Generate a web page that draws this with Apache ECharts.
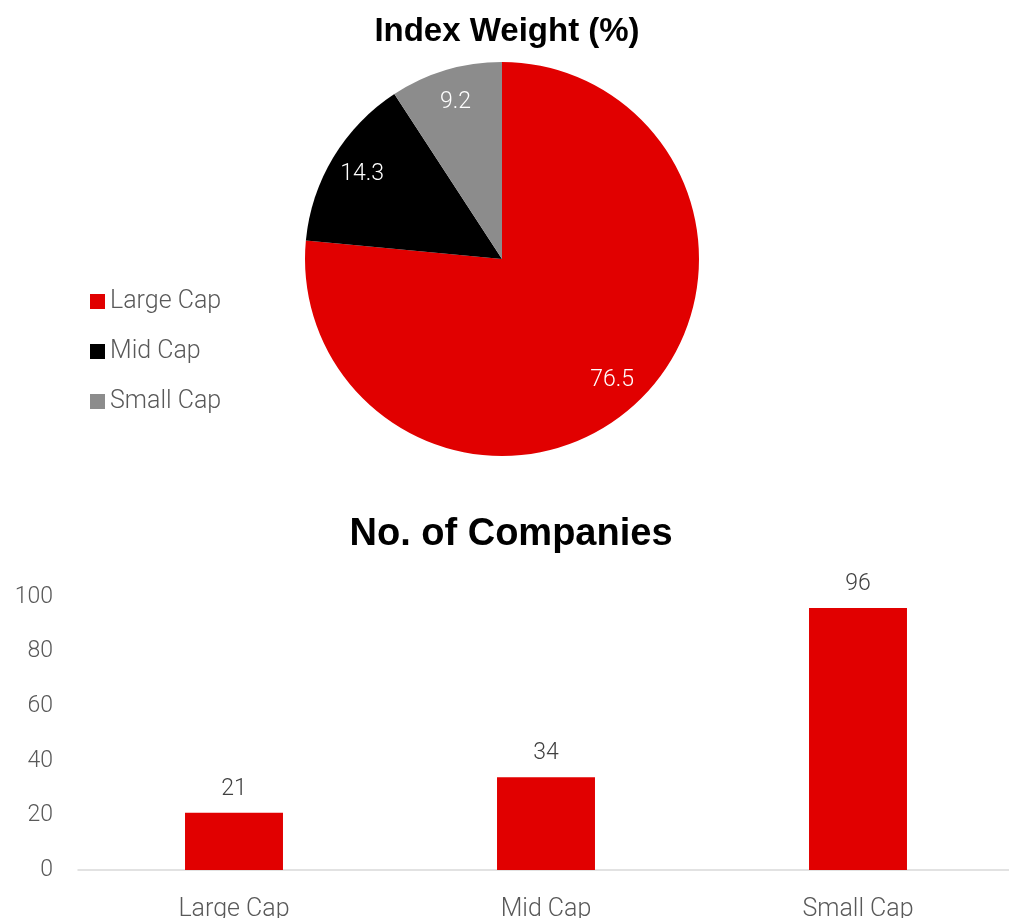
<!DOCTYPE html>
<html>
<head>
<meta charset="utf-8">
<script src="https://cdn.jsdelivr.net/npm/echarts@6/dist/echarts.min.js"></script>
<style>
  html, body { margin: 0; padding: 0; background: #fff; }
  #chart { width: 1009px; height: 918px; }
</style>
</head>
<body>
<div id="chart"></div>
<script>
// Index composition by size segment
const segments = ['Large Cap', 'Mid Cap', 'Small Cap'];
const indexWeight = [76.5, 14.3, 9.2];
const companyCount = [21, 34, 96];
const countTicks = { min: 0, max: 100, interval: 20 };

const segmentColors = ['#E10000', '#000000', '#8C8C8C'];
const bodyFont = 'Roboto';
const titleFont = 'Liberation Sans';

const pieData = segments.map((name, i) => ({
  name: name,
  value: indexWeight[i],
  itemStyle: { color: segmentColors[i] }
}));

const chart = echarts.init(document.getElementById('chart'), null, { renderer: 'canvas' });

chart.setOption({
  animation: false,
  backgroundColor: '#ffffff',
  title: [
    {
      text: 'Index Weight (%)',
      left: 502, top: 10, textAlign: 'center',
      textStyle: { fontFamily: titleFont, fontWeight: 'bold', fontSize: 33, color: '#000' }
    },
    {
      text: 'No. of Companies',
      left: 506, top: 511, textAlign: 'center',
      textStyle: { fontFamily: titleFont, fontWeight: 'bold', fontSize: 38, color: '#000' }
    }
  ],
  legend: {
    data: segments,
    orient: 'vertical',
    left: 90, top: 289,
    padding: 0,
    icon: 'rect',
    itemWidth: 15, itemHeight: 15,
    itemGap: 25,
    selectedMode: false,
    textStyle: { fontFamily: bodyFont, fontWeight: 300, fontSize: 25, lineHeight: 24, color: '#595959' }
  },
  grid: { left: 78, width: 936, top: 597, height: 273, containLabel: false, outerBoundsMode: 'none' },
  xAxis: {
    type: 'category',
    data: segments,
    axisLine: { lineStyle: { color: '#D9D9D9', width: 1.5 } },
    axisTick: { show: false },
    axisLabel: { fontFamily: bodyFont, fontWeight: 300, fontSize: 25, color: '#595959', margin: 27 }
  },
  yAxis: {
    type: 'value',
    min: countTicks.min, max: countTicks.max, interval: countTicks.interval,
    axisLine: { show: false },
    axisTick: { show: false },
    splitLine: { show: false },
    axisLabel: { fontFamily: bodyFont, fontWeight: 300, fontSize: 23, color: '#595959', margin: 25 }
  },
  series: [
    {
      type: 'pie',
      name: 'Index Weight',
      center: [502, 259],
      radius: 197,
      startAngle: 90,
      clockwise: true,
      silent: true,
      label: { show: false },
      labelLine: { show: false },
      data: pieData
    },
    {
      // transparent ring that carries the value labels further out in each slice
      type: 'pie',
      name: 'Index Weight labels',
      center: [502, 259],
      radius: [124, 197],
      startAngle: 90,
      clockwise: true,
      silent: true,
      itemStyle: { color: 'rgba(0,0,0,0)' },
      label: {
        show: true, position: 'inside',
        formatter: p => p.value.toFixed(1),
        fontFamily: bodyFont, fontWeight: 300, fontSize: 23, color: '#ffffff'
      },
      labelLine: { show: false },
      data: segments.map((name, i) => ({ name: name, value: indexWeight[i] }))
    },
    {
      type: 'bar',
      name: 'No. of Companies',
      data: companyCount,
      barWidth: '31.4%',
      itemStyle: { color: '#E10000' },
      label: {
        show: true, position: 'top', distance: 12,
        fontFamily: bodyFont, fontWeight: 300, fontSize: 23, color: '#404040'
      }
    }
  ]
});
</script>
</body>
</html>
